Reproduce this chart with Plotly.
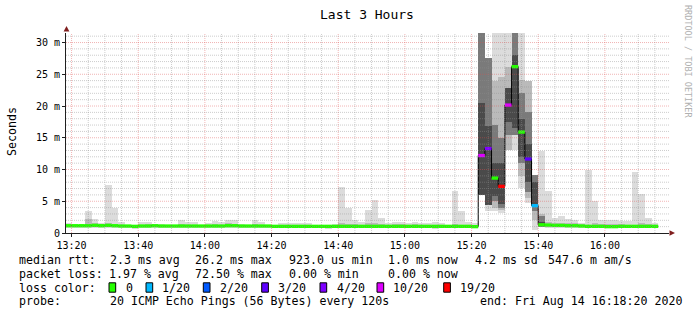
import plotly.graph_objects as go
import pandas as pd

# ---------------- data ----------------
# 2-minute SmokePing intervals, start times
bar_start = pd.date_range("2020-08-14 13:18:00", periods=89, freq="2min")
step = pd.Timedelta(minutes=2)
data_end = pd.Timestamp("2020-08-14 16:16:00")

rtt_min = [0.85, 0.85, 0.8, 0.8, 0.8, 0.85, 0.8, 0.8, 0.8, 0.85,
           0.7, 0.8, 0.8, 0.8, 0.85, 0.8, 0.8, 0.8, 0.8, 0.8,
           0.85, 0.8, 0.8, 0.8, 0.8, 0.8, 0.85, 0.8, 0.8, 0.8,
           0.85, 0.8, 0.75, 0.75, 0.8, 0.8, 0.85, 0.8, 0.8, 0.7,
           0.8, 0.8, 0.8, 0.8, 0.8, 0.75, 0.8, 0.8, 0.8, 0.75,
           0.75, 0.8, 0.8, 0.8, 0.8, 0.6, 0.75, 0.8, 0.8, 0.8,
           0.75, 0.8,
           6.0, 3.4, 3.4, 3.15, 13.1, 13.1, 7.1, 4.7, 0.5, 0.9,
           0.8, 0.8, 0.75, 0.8, 0.8, 0.8, 0.8, 0.8,
           0.8, 0.75, 0.8, 0.8, 0.8, 0.8, 0.8, 0.8, 0.8]

rtt_max = [1.6, 1.2, 1.3, 3.4, 2.25, 1.6, 7.6, 4.0, 1.8, 1.3,
           1.2, 1.8, 1.7, 1.4, 1.4, 1.3, 1.3, 2.1, 1.8, 1.7,
           1.3, 1.6, 1.9, 1.7, 2.0, 2.0, 1.4, 1.3, 2.0, 1.8,
           1.3, 1.3, 1.5, 1.6, 1.6, 1.5, 1.5, 1.3, 1.2, 1.3,
           1.4, 7.3, 4.0, 2.1, 1.8, 3.7, 5.25, 2.4, 1.5, 1.7,
           1.7, 1.6, 1.75, 1.6, 1.6, 1.7, 1.6, 1.3, 6.55, 3.4,
           1.8, 1.5,
           32.0, 27.55, 32.0, 32.0, 32.0, 32.0, 32.0, 23.9, 9.2, 12.85,
           6.55, 2.35, 2.7, 2.2, 2.1, 1.6, 9.85, 5.0,
           2.1, 2.1, 2.1, 1.9, 1.9, 9.55, 6.2, 2.3, 1.6]

rtt_p10 = [0.95, 0.95, 0.95, 0.95, 0.95, 0.95, 0.95, 0.95, 0.95, 0.95,
           0.9, 0.95, 0.95, 0.95, 0.95, 0.95, 0.95, 0.95, 0.95, 0.95,
           0.95, 0.95, 0.95, 0.95, 0.95, 0.95, 0.95, 0.95, 0.95, 0.95,
           0.95, 0.9, 0.9, 0.9, 0.9, 0.9, 0.9, 0.9, 0.9, 0.9,
           0.9, 0.9, 0.9, 0.9, 0.9, 0.9, 0.9, 0.9, 0.9, 0.9,
           0.9, 0.9, 0.9, 0.9, 0.9, 0.85, 0.9, 0.9, 0.9, 0.9,
           0.9, 0.9,
           6.0, 4.45, 3.9, 3.6, 13.1, 15.5, 9.0, 5.5, 2.0, 1.0,
           0.95, 0.95, 0.95, 0.95, 0.95, 0.9, 0.9, 0.9,
           0.9, 0.9, 0.9, 0.9, 0.9, 0.9, 0.9, 0.9, 0.9]

rtt_p90 = [1.3, 1.2, 1.25, 2.2, 1.6, 1.35, 1.5, 1.3, 1.3, 1.2,
           1.15, 1.3, 1.35, 1.25, 1.25, 1.2, 1.2, 1.4, 1.3, 1.3,
           1.2, 1.3, 1.35, 1.3, 1.6, 1.4, 1.25, 1.2, 1.35, 1.3,
           1.2, 1.2, 1.3, 1.3, 1.3, 1.25, 1.25, 1.2, 1.15, 1.2,
           1.25, 1.5, 1.4, 1.4, 1.3, 1.5, 1.5, 1.4, 1.25, 1.35,
           1.35, 1.3, 1.35, 1.3, 1.3, 1.3, 1.3, 1.2, 1.4, 1.3,
           1.3, 1.2,
           32.0, 27.55, 23.9, 24.5, 26.2, 32.0, 24.1, 23.9, 9.2, 3.0,
           1.8, 1.6, 1.5, 1.6, 1.5, 1.4, 1.3, 1.5,
           1.4, 1.35, 1.35, 1.35, 1.3, 1.3, 1.5, 1.4, 1.3]

rtt_median = [1.15, 1.15, 1.15, 1.15, 1.2, 1.15, 1.2, 1.15, 1.1, 1.1,
              1.05, 1.1, 1.1, 1.15, 1.1, 1.1, 1.1, 1.1, 1.1, 1.1,
              1.1, 1.1, 1.1, 1.1, 1.15, 1.15, 1.1, 1.1, 1.1, 1.1,
              1.1, 1.05, 1.05, 1.05, 1.05, 1.05, 1.05, 1.05, 1.05, 1.05,
              1.05, 1.05, 1.05, 1.05, 1.05, 1.05, 1.05, 1.05, 1.05, 1.05,
              1.05, 1.05, 1.05, 1.05, 1.05, 1.05, 1.05, 1.05, 1.05, 1.05,
              1.05, 1.0,
              12.2, 13.3, 8.65, 7.35, 20.15, 26.2, 15.9, 11.65, 4.3, 1.3,
              1.25, 1.2, 1.2, 1.15, 1.15, 1.1, 1.05, 1.05,
              1.05, 1.0, 1.0, 1.05, 1.05, 1.05, 1.05, 1.05, 1.05]

lost_pings = [0] * 62 + [10, 4, 0, 19, 10, 0, 0, 3, 1, 0] + [0] * 17

# denser smoke inside the 15:22 - 15:40 disturbance
busy_start = pd.date_range("2020-08-14 15:22:00", periods=10, freq="2min")
busy_p25 = [6.0, 4.45, 5.0, 4.0, 15.5, 15.5, 11.0, 6.5, 3.5, 1.0]
busy_p40 = [6.0, 4.45, 5.75, 4.5, 17.5, 16.6, 12.0, 8.0, 4.5, 1.1]
busy_p60 = [20.5, 16.8, 11.0, 11.0, 22.8, 28.0, 18.0, 14.0, 8.0, 1.8]
busy_p75 = [32.0, 27.55, 17.0, 15.0, 22.8, 32.0, 22.0, 19.0, 9.2, 2.6]

loss_levels = ["0", "1/20", "2/20", "3/20", "4/20", "10/20", "19/20"]
loss_counts = [0, 1, 2, 3, 4, 10, 19]
loss_colors = ["#26ff00", "#00b8ff", "#0059ff", "#5e00ff", "#7e00ff", "#dd00ff", "#ff0000"]

y_tickvals = [0, 5, 10, 15, 20, 25, 30]
y_ticktext = ["0", "5 m", "10 m", "15 m", "20 m", "25 m", "30 m"]
x_tickvals = pd.date_range("2020-08-14 13:20:00", "2020-08-14 16:00:00", freq="20min")

stats_rows = [
    ("median rtt:", [(107.7, "2.3 ms avg"), (193.3, "26.2 ms max"), (286.7, "923.0 us min"),
                     (386.3, "1.0 ms now"), (473.0, "4.2 ms sd"), (546.0, "547.6 m am/s")]),
    ("packet loss:", [(107.3, "1.97 % avg"), (193.3, "72.50 % max"), (286.7, "0.00 % min"),
                      (386.0, "0.00 % now")]),
    ("loss color:", []),
    ("probe:", [(107.7, "20 ICMP Echo Pings (56 Bytes) every 120s"),
                (478.0, "end: Fri Aug 14 16:18:20 2020")]),
]
legend_box_x = [109.0, 146.0, 203.3, 261.7, 320.0, 377.0, 443.7]
legend_text_x = [124.0, 160.0, 218.3, 276.0, 334.7, 391.3, 458.0]

# ---------------- figure ----------------
FONT = "DejaVu Sans Mono"
W = 120000  # 2 minutes in ms
L, R, T, B = 66, 28, 33, 82
PW, PH = 697 - L - R, 315 - T - B


def px(xp):
    return (xp - L) / PW


def py(yp):
    return (T + PH - yp) / PH


fig = go.Figure()


def band(x, lo, hi, color):
    fig.add_trace(go.Bar(
        x=x, base=lo, y=[h - l for h, l in zip(hi, lo)], width=W, offset=0,
        marker=dict(color=color, line=dict(width=0)), hoverinfo="skip", showlegend=False))


band(bar_start, rtt_min, rtt_max, "#dcdcdc")
band(bar_start, rtt_p10, rtt_p90, "#bababa")
band(busy_start, busy_p25, busy_p75, "#7a7a7a")
band(busy_start, busy_p40, busy_p60, "#4a4a4a")

# median step line (black joints)
fig.add_trace(go.Scatter(
    x=list(bar_start) + [data_end], y=rtt_median + [rtt_median[-1]],
    mode="lines", line=dict(color="#000000", width=1, shape="hv"),
    hoverinfo="skip", showlegend=False))

# median coloured by loss, one trace per colour
for cnt, col in zip(loss_counts, loss_colors):
    xs, ys = [], []
    for s, m, lp in zip(bar_start, rtt_median, lost_pings):
        if lp == cnt:
            xs += [s, s + step, None]
            ys += [m, m, None]
    if xs:
        fig.add_trace(go.Scatter(x=xs, y=ys, mode="lines",
                                 line=dict(color=col, width=3.3),
                                 hoverinfo="skip", showlegend=False))

shapes = []
# grid on top of the graph (rrdtool style)
GRID = "rgba(143,143,143,0.45)"
MGRID = "rgba(222,79,79,0.42)"
for t in pd.date_range("2020-08-14 13:20:00", "2020-08-14 16:15:00", freq="5min"):
    major = t.minute % 20 == 0
    shapes.append(dict(type="line", xref="x", yref="paper", x0=t, x1=t, y0=0, y1=1,
                       layer="above", line=dict(color=MGRID if major else GRID, width=1, dash="1px,1px")))
for v in range(1, 32):
    major = v % 5 == 0
    shapes.append(dict(type="line", xref="paper", yref="y", x0=0, x1=1, y0=v, y1=v,
                       layer="above", line=dict(color=MGRID if major else GRID, width=1, dash="1px,1px")))

# axis arrows
ARROW = "#801f1f"
shapes.append(dict(type="path", xref="paper", yref="paper", layer="above",
                   path=f"M {px(66.5)} {py(26.0)} L {px(63.6)} {py(31.5)} L {px(69.4)} {py(31.5)} Z",
                   fillcolor=ARROW, line=dict(width=0)))
shapes.append(dict(type="path", xref="paper", yref="paper", layer="above",
                   path=f"M {px(675.0)} {py(233.0)} L {px(669.5)} {py(230.2)} L {px(669.5)} {py(235.8)} Z",
                   fillcolor=ARROW, line=dict(width=0)))

annotations = []
row_y = [260.0, 273.5, 287.5, 301.0]
for (label, items), yy in zip(stats_rows, row_y):
    annotations.append(dict(x=px(16.7), y=py(yy), xref="paper", yref="paper", text=label,
                            showarrow=False, xanchor="left", yanchor="middle",
                            font=dict(family=FONT, size=11.6, color="#000")))
    for xx, txt in items:
        annotations.append(dict(x=px(xx), y=py(yy), xref="paper", yref="paper", text=txt,
                                showarrow=False, xanchor="left", yanchor="middle",
                                font=dict(family=FONT, size=11.6, color="#000")))

for bx, tx, lab, col in zip(legend_box_x, legend_text_x, loss_levels, loss_colors):
    shapes.append(dict(type="rect", xref="paper", yref="paper",
                       x0=px(bx), x1=px(bx + 6.7), y0=py(292.2), y1=py(282.8),
                       fillcolor=col, line=dict(color="#000", width=1)))
    annotations.append(dict(x=px(tx), y=py(row_y[2]), xref="paper", yref="paper", text=lab,
                            showarrow=False, xanchor="left", yanchor="middle",
                            font=dict(family=FONT, size=11.6, color="#000")))

# title, unit, watermark
annotations.append(dict(x=px(366.5), y=py(14.0), xref="paper", yref="paper", text="Last 3 Hours",
                        showarrow=False, xanchor="center", yanchor="middle",
                        font=dict(family=FONT, size=13, color="#000")))
annotations.append(dict(x=px(11.5), y=py(131.5), xref="paper", yref="paper", text="Seconds",
                        showarrow=False, xanchor="center", yanchor="middle", textangle=-90,
                        font=dict(family=FONT, size=11.6, color="#000")))
annotations.append(dict(x=px(688.0), y=py(61.0), xref="paper", yref="paper",
                        text="RRDTOOL / TOBI OETIKER",
                        showarrow=False, xanchor="center", yanchor="middle", textangle=90,
                        font=dict(family=FONT, size=8.5, color="#b0b0b0")))

fig.update_layout(
    width=697, height=315,
    margin=dict(l=L, r=R, t=T, b=B, pad=0),
    paper_bgcolor="#ffffff", plot_bgcolor="#ffffff",
    barmode="overlay", bargap=0,
    showlegend=False,
    shapes=shapes, annotations=annotations,
    xaxis=dict(type="date",
               range=["2020-08-14 13:18:20", "2020-08-14 16:19:14"],
               tickvals=list(x_tickvals), tickformat="%H:%M",
               ticks="outside", ticklen=3, tickcolor="#1f1f1f",
               showline=True, linecolor="#1f1f1f", linewidth=1,
               showgrid=False, zeroline=False,
               tickfont=dict(family=FONT, size=10, color="#000")),
    yaxis=dict(range=[0, 31.5], tickvals=y_tickvals, ticktext=y_ticktext,
               ticks="outside", ticklen=3, tickcolor="#1f1f1f",
               showline=True, linecolor="#1f1f1f", linewidth=1,
               showgrid=False, zeroline=False,
               tickfont=dict(family=FONT, size=10, color="#000")),
)

fig.write_html("out.html")
